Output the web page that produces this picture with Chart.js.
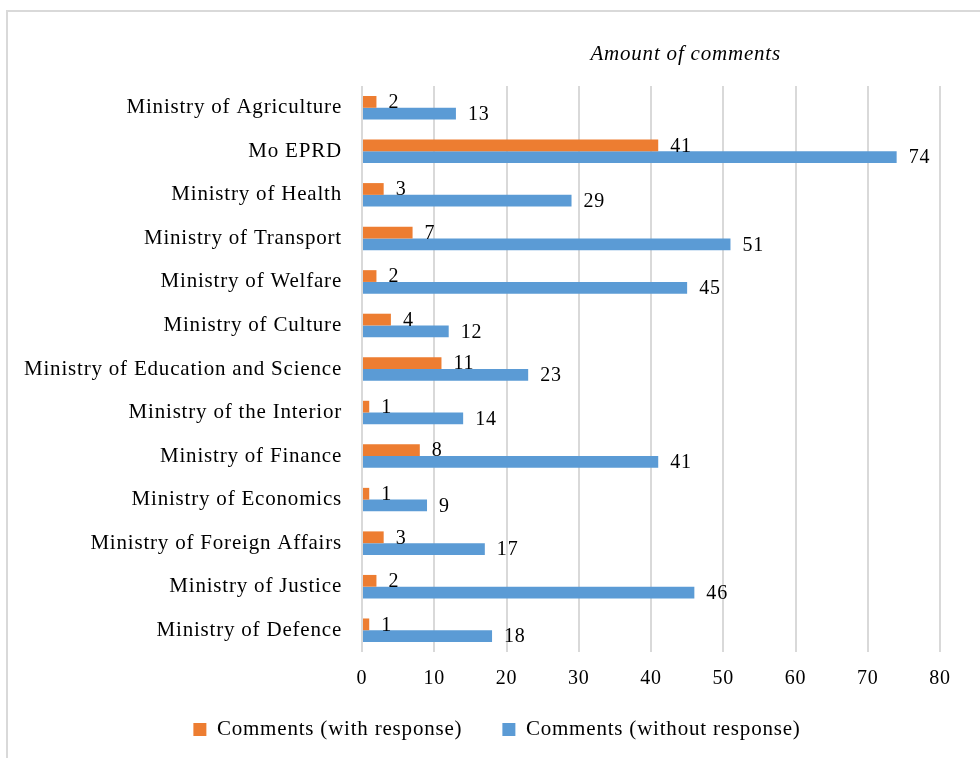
<!DOCTYPE html>
<html lang="en">
<head>
  <meta charset="UTF-8" />
  <title>Amount of comments</title>
  <script src="https://cdn.jsdelivr.net/npm/chart.js"></script>
  <style>
    body {
      margin: 0;
      background: #fff;
      overflow: hidden;
    }
    .frame {
      position: absolute;
      left: 6px;
      top: 10px;
      width: 1100px;
      height: 900px;
      border: 2px solid #d9d9d9;
      pointer-events: none;
    }
    .wrap {
      position: absolute;
      left: 0;
      top: 0;
      width: 980px;
      height: 758px;
    }
  </style>
</head>
<body>
  <div class="wrap"><canvas id="chart" width="980" height="758"></canvas></div>
  <div class="frame"></div>

  <script>
    const ministries = [
      "Ministry of Agriculture", "Mo EPRD", "Ministry of Health", "Ministry of Transport",
      "Ministry of Welfare", "Ministry of Culture", "Ministry of Education and Science",
      "Ministry of the Interior", "Ministry of Finance", "Ministry of Economics",
      "Ministry of Foreign Affairs", "Ministry of Justice", "Ministry of Defence"
    ];
    const withResponse = [2, 41, 3, 7, 2, 4, 11, 1, 8, 1, 3, 2, 1];
    const withoutResponse = [13, 74, 29, 51, 45, 12, 23, 14, 41, 9, 17, 46, 18];
    const xTicks = [0, 10, 20, 30, 40, 50, 60, 70, 80];

    const font = "'Liberation Serif', 'Times New Roman', serif";
    const spacing = "0.8px";

    // the original text is a touch wider than Liberation Serif, so space it out
    const letterSpacing = {
      id: "letterSpacing",
      beforeUpdate(chart) { chart.ctx.letterSpacing = spacing; },
      beforeRender(chart) { chart.ctx.letterSpacing = spacing; }
    };

    // nudge the legend: a bit right of centre and tucked up under the ticks
    const legendPlace = {
      id: "legendPlace",
      afterLayout(chart) {
        chart.legend.left += 54;
        chart.legend.top = 679;
      }
    };

    // value labels just past the end of each bar
    const barLabels = {
      id: "barLabels",
      afterDatasetsDraw(chart) {
        const ctx = chart.ctx;
        ctx.save();
        ctx.font = "20px " + font;
        ctx.fillStyle = "#000";
        ctx.textBaseline = "middle";
        ctx.textAlign = "left";
        chart.data.datasets.forEach((ds, i) => {
          const meta = chart.getDatasetMeta(i);
          meta.data.forEach((bar, j) => {
            ctx.fillText(String(ds.data[j]), bar.x + 12, bar.y + 1);
          });
        });
        ctx.restore();
      }
    };

    const axisTitle = {
      id: "axisTitle",
      afterDraw(chart) {
        const a = chart.chartArea;
        const ctx = chart.ctx;
        ctx.save();
        ctx.font = "italic 21px " + font;
        ctx.fillStyle = "#000";
        ctx.textAlign = "center";
        ctx.textBaseline = "middle";
        ctx.fillText("Amount of comments", a.left + (a.right - a.left) * 0.56, 54);
        ctx.restore();
      }
    };

    new Chart(document.getElementById("chart"), {
      type: "bar",
      data: {
        labels: ministries,
        datasets: [
          {
            label: "Comments (with response)",
            data: withResponse,
            backgroundColor: "#ed7d31"
          },
          {
            label: "Comments (without response)",
            data: withoutResponse,
            backgroundColor: "#5b9bd5"
          }
        ]
      },
      options: {
        indexAxis: "y",
        responsive: false,
        animation: false,
        layout: { padding: { top: 86, right: 40, left: 0, bottom: -10 } },
        datasets: {
          bar: { categoryPercentage: 0.54, barPercentage: 1 }
        },
        scales: {
          x: {
            min: 0,
            max: 80,
            afterBuildTicks(scale) {
              scale.ticks = xTicks.map(v => ({ value: v }));
            },
            afterFit(scale) { scale.height = 45; },
            grid: { color: "#d9d9d9", lineWidth: 2, drawTicks: false },
            border: { display: false },
            ticks: {
              color: "#000",
              font: { family: font, size: 20 },
              padding: 15
            }
          },
          y: {
            afterFit(scale) { scale.width = 362; },
            grid: { display: false, drawTicks: false },
            border: { display: false },
            ticks: {
              color: "#000",
              font: { family: font, size: 21 },
              padding: 20
            }
          }
        },
        plugins: {
          legend: {
            position: "bottom",
            labels: {
              color: "#000",
              font: { family: font, size: 21 },
              boxWidth: 13,
              boxHeight: 13,
              padding: 40
            }
          },
          tooltip: { enabled: false }
        }
      },
      plugins: [letterSpacing, legendPlace, barLabels, axisTitle]
    });
  </script>
</body>
</html>
